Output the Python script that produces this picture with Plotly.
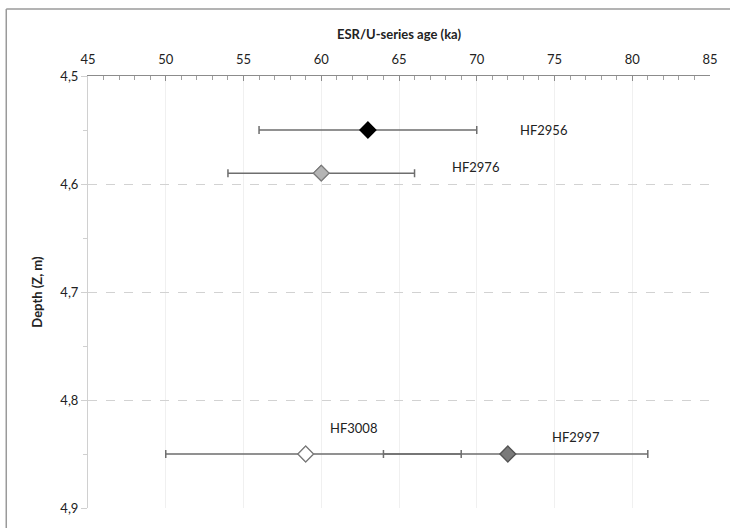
import plotly.graph_objects as go

samples = ["HF2956", "HF2976", "HF3008", "HF2997"]
ages = [63, 60, 59, 72]
depths = [4.55, 4.59, 4.85, 4.85]
err_plus = [7, 6, 10, 9]
err_minus = [7, 6, 9, 8]
fill_colors = ["#000000", "#b4b4b4", "#ffffff", "#7a7a7a"]
line_colors = ["#000000", "#7a7a7a", "#7a7a7a", "#555555"]
label_x = [74.3, 69.9, 62.1, 76.4]
label_y = [4.55, 4.584, 4.826, 4.834]

x_ticks = [45, 50, 55, 60, 65, 70, 75, 80, 85]
y_ticks = [4.5, 4.6, 4.7, 4.8, 4.9]

FONT = "Lato, 'Open Sans', sans-serif"

fig = go.Figure()
for i, s in enumerate(samples):
    fig.add_trace(go.Scatter(
        x=[ages[i]], y=[depths[i]], mode="markers", name=s,
        marker=dict(symbol="diamond", size=12, color=fill_colors[i],
                    line=dict(color=line_colors[i], width=1.2)),
        error_x=dict(type="data", symmetric=False, array=[err_plus[i]],
                     arrayminus=[err_minus[i]], color="#6e6e6e",
                     thickness=1.5, width=4),
        showlegend=False,
    ))
    fig.add_annotation(x=label_x[i], y=label_y[i], text=s, showarrow=False,
                       font=dict(size=13, color="#222", family=FONT))

# redraw markers on top of all error bars
for i, s in enumerate(samples):
    fig.add_trace(go.Scatter(
        x=[ages[i]], y=[depths[i]], mode="markers",
        marker=dict(symbol="diamond", size=12, color=fill_colors[i],
                    line=dict(color=line_colors[i], width=1.2)),
        showlegend=False, hoverinfo="skip"))

fig.update_layout(
    width=730, height=528,
    margin=dict(l=88, r=18, t=76, b=20),
    paper_bgcolor="white", plot_bgcolor="white",
    separators=", ",
    font=dict(family=FONT, size=13, color="#222"),
    xaxis=dict(
        side="top", range=[45, 85], tickvals=x_ticks,
        showgrid=True, gridcolor="#f0f0f0", gridwidth=1,
        showline=True, linecolor="#8c8c8c", linewidth=1,
        ticks="inside", ticklen=5, tickcolor="#8c8c8c",
        ticklabelstandoff=6,
        minor=dict(dtick=1, ticks="inside", ticklen=4, tickcolor="#a0a0a0", showgrid=False),
        zeroline=False,
        title=dict(text="<b>ESR/U-series age (ka)</b>", font=dict(size=13, family=FONT), standoff=8),
        tickfont=dict(size=13),
    ),
    yaxis=dict(
        range=[4.9, 4.5], tickvals=y_ticks, tickformat=".1f",
        showgrid=True, gridcolor="#d2d2d2", griddash="dash", gridwidth=1,
        showline=True, linecolor="#d0d0d0", linewidth=1,
        ticks="outside", ticklen=6, tickcolor="#d0d0d0",
        minor=dict(dtick=0.05, ticks="outside", ticklen=4, tickcolor="#d0d0d0", showgrid=False),
        zeroline=False,
        title=dict(text="<b>Depth (Z, m)</b>", font=dict(size=13, family=FONT), standoff=14),
        tickfont=dict(size=13),
    ),
)

# outer frame (top and left edges visible)
fig.add_shape(type="line", xref="paper", yref="paper", x0=-82/624, x1=(730-88)/624 + 0.01,
              y0=1 + 67/432, y1=1 + 67/432, line=dict(color="#9a9a9a", width=1.5))
fig.add_shape(type="line", xref="paper", yref="paper", x0=-82/624, x1=-82/624,
              y0=-0.1, y1=1 + 67/432, line=dict(color="#9a9a9a", width=1.5))

fig.write_html("out.html", config={"displayModeBar": False},
               post_script="document.body.style.margin='0';")
